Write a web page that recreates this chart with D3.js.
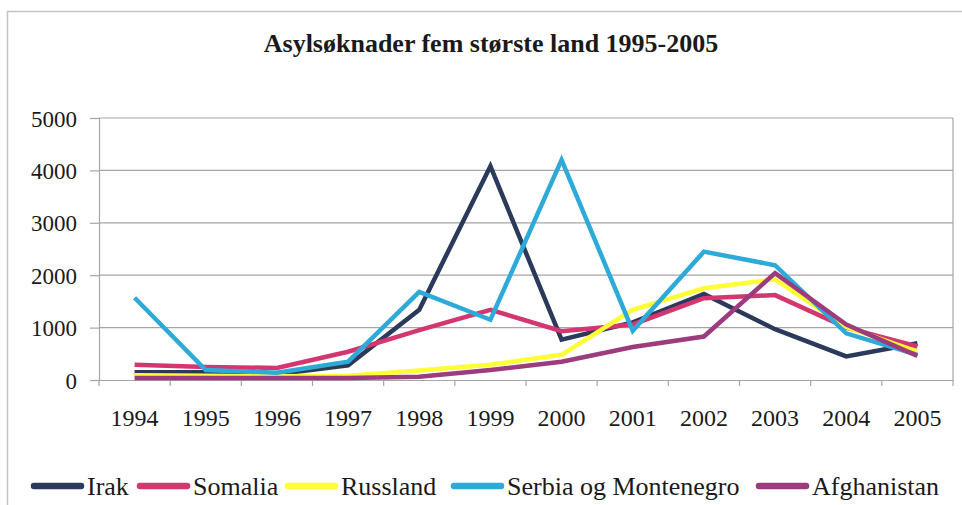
<!DOCTYPE html>
<html><head><meta charset="utf-8">
<script src="https://cdn.jsdelivr.net/npm/d3@7"></script>
<style>body{margin:0;background:#fff}svg{display:block}
</style>
</head><body>
<svg id="c" width="962" height="505"></svg>
<script>
const years = ["1994","1995","1996","1997","1998","1999","2000","2001","2002","2003","2004","2005"];
const yTicks = [0,1000,2000,3000,4000,5000];
const seriesNames = ["Irak","Somalia","Russland","Serbia og Montenegro","Afghanistan"];
const seriesColors = ["#2b3a5a","#d4376f","#ffff33","#2eaad8","#9c3b7e"];
const irak = [150,150,110,280,1340,4080,770,1100,1640,970,450,700];
const somalia = [290,250,230,540,950,1340,930,1060,1560,1620,1000,640];
const russland = [90,80,70,80,180,290,480,1340,1750,1920,1010,540];
const serbia = [1570,190,140,350,1680,1150,4200,940,2450,2190,890,480];
const afghanistan = [40,40,40,40,60,190,350,630,830,2040,1060,460];
const allValues = [irak,somalia,russland,serbia,afghanistan];

const FONT = "Liberation Serif";
const svg = d3.select("#c");
const L = 99, R = 953, T = 118, B = 380;
const x = d3.scaleBand().domain(years).range([L,R]);
const y = d3.scaleLinear().domain([0,5000]).range([B,T]);

svg.append("rect").attr("x",7.5).attr("y",11.5).attr("width",970).attr("height",520)
  .attr("fill","none").attr("stroke","#c4c4c4").attr("stroke-width",1.5);

svg.append("text").attr("font-family",FONT).attr("x",491).attr("y",52).attr("text-anchor","middle")
  .attr("font-weight","bold").attr("font-size",26).attr("fill","#1a1a1a")
  .text("Asylsøknader fem største land 1995-2005");

svg.append("g").selectAll("line").data(yTicks.filter(d=>d>0)).join("line")
  .attr("x1",L).attr("x2",R).attr("y1",d=>y(d)).attr("y2",d=>y(d))
  .attr("stroke","#a6a6a6").attr("stroke-width",1.2);
svg.append("line").attr("x1",R).attr("x2",R).attr("y1",T).attr("y2",B).attr("stroke","#a6a6a6").attr("stroke-width",1.2);

const yAxis = svg.append("g").attr("transform",`translate(${L},0)`)
  .call(d3.axisLeft(y).tickValues(yTicks).tickSize(9).tickPadding(13).tickFormat(d3.format("d")));
const xAxis = svg.append("g").attr("transform",`translate(0,${B})`)
  .call(d3.axisBottom(x).tickSize(0).tickPadding(29));
svg.append("g").selectAll("line").data(years.concat(["end"])).join("line")
  .attr("x1",(d,i)=>L+i*x.step()).attr("x2",(d,i)=>L+i*x.step())
  .attr("y1",B).attr("y2",B+6).attr("stroke","#a6a6a6").attr("stroke-width",1.2);
[yAxis,xAxis].forEach(g=>{
  g.attr("font-family",FONT);
  g.selectAll(".domain").attr("stroke","#a6a6a6").attr("stroke-width",1.2);
  g.selectAll(".tick line").attr("stroke","#a6a6a6").attr("stroke-width",1.2);
  g.selectAll("text").attr("fill","#1a1a1a");
});
yAxis.attr("font-size",23);
xAxis.attr("font-size",24);
yAxis.selectAll("text").attr("dy","0.35em");

const line = d3.line().x((d,i)=>x(years[i])+x.bandwidth()/2).y(d=>y(d));
svg.append("g").selectAll("path").data(allValues).join("path")
  .attr("d",line).attr("fill","none").attr("stroke",(d,i)=>seriesColors[i])
  .attr("stroke-width",4.5).attr("stroke-linejoin","miter");

const legX = [31,137,285,451,756];
const lg = svg.append("g");
seriesNames.forEach((n,i)=>{
  lg.append("line").attr("x1",legX[i]+3).attr("x2",legX[i]+50).attr("y1",486).attr("y2",486)
    .attr("stroke",seriesColors[i]).attr("stroke-width",6.5).attr("stroke-linecap","round");
  lg.append("text").attr("font-family",FONT).attr("x",legX[i]+56).attr("y",495)
    .attr("font-size",26).attr("fill","#1a1a1a").text(n);
});
</script>
</body></html>
